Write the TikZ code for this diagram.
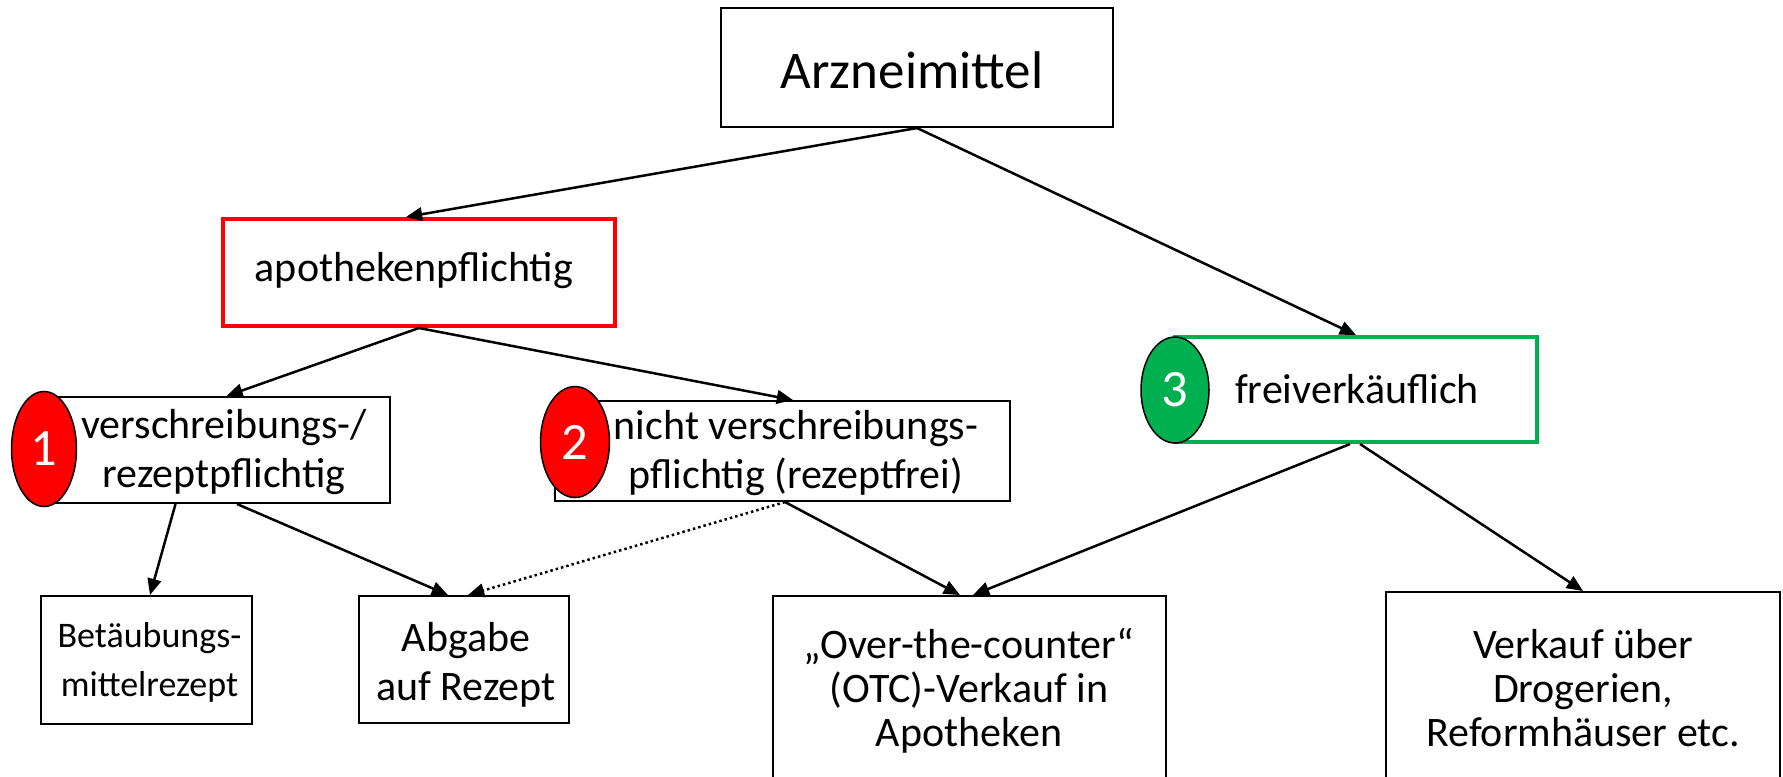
\documentclass[tikz,border=0pt]{standalone}
\usepackage{fontspec}
\setmainfont{Carlito}
\usetikzlibrary{arrows.meta,shapes.geometric}
\definecolor{pptred}{HTML}{FF0000}
\definecolor{pptgreen}{HTML}{00B050}
\tikzset{
  sz/.style 2 args={minimum width=#1*0.4pt, minimum height=#2*0.4pt},
  box/.style={draw=black, line width=0.8pt, fill=white, inner sep=0pt, align=center},
  redbox/.style={box, draw=pptred, line width=1.6pt},
  greenbox/.style={box, draw=pptgreen, line width=1.6pt},
  txt/.style={inner sep=0pt, align=center, font=\fontsize{16.8}{19.6}\selectfont},
  txtb/.style={inner sep=0pt, align=center, font=\fontsize{16.8}{17.6}\selectfont},
  txts/.style={inner sep=0pt, align=center, font=\fontsize{14.4}{19.6}\selectfont},
  badge/.style={ellipse, draw=black, line width=0.6pt, inner sep=0pt, text=white,
    font=\fontsize{21}{24}\selectfont},
  arr/.style={line width=1pt, -{Triangle[length=6.5pt,width=5.5pt]}},
  dotarr/.style={line width=1pt, dash pattern=on 1pt off 1.2pt, -{Triangle[length=6.5pt,width=5.5pt]}},
}
\begin{document}
\begin{tikzpicture}[x=0.4pt, y=-0.4pt]
\useasboundingbox (0,0) rectangle (1783,776);
\clip (0,0) rectangle (1783,776);
\fill[white] (0,0) rectangle (1783,776);

% boxes
\node[box, sz={392}{119}] (arz) at (917,67.5) {};
\node[txt, font=\fontsize{21.2}{24}\selectfont] (arzt) at (912,70) {Arzneimittel};

\node[redbox, sz={392}{107}] (apoth) at (419,272.5) {};
\node[txt] (apotht) at (414,271) {apothekenpflichtig};

\node[box, sz={349}{106}] (vers) at (215.5,450) {};
\node[txt] (verst) at (224,452) {verschreibungs-/\\rezeptpflichtig};

\node[box, sz={455}{100}] (nicht) at (782.5,451) {};
\node[txt] (nichtt) at (796,453) {nicht verschreibungs-\\pflichtig (rezeptfrei)};

\node[greenbox, sz={362}{105}] (frei) at (1356,389.5) {};
\node[txt] (freit) at (1357,389) {freiverkäuflich};

\node[box, sz={211}{128}] (betaeub) at (146.5,660) {};
\node[txts] (betaeubt) at (149.5,662) {Betäubungs-\\mittelrezept};

\node[box, sz={210}{127}] (abgabe) at (464,659.5) {};
\node[txt] (abgabet) at (466,665) {Abgabe\\auf Rezept};

\node[box, sz={393}{210}] (otc) at (969.5,701) {};
\node[txtb] (otct) at (969,691) {„Over-the-counter“\\(OTC)-Verkauf in\\Apotheken};

\node[box, sz={394}{214}] (verkauf) at (1583,699) {};
\node[txtb] (verkauft) at (1583,688) {Verkauf über\\Drogerien,\\Reformhäuser etc.};

% badges
\node[badge, fill=pptred, sz={65}{115}] (b1) at (44,449) {1};
\node[badge, fill=pptred, sz={69}{111}] (b2) at (575,442) {2};
\node[badge, fill=pptgreen, sz={68}{106}] (b3) at (1175,390) {3};

% connectors
\draw[arr] (arz.south) -- ([xshift=-5.2pt]apoth.north);
\draw[arr] (arz.south) -- (frei.north);
\draw[arr] (apoth.south) -- ([xshift=4.4pt]vers.north);
\draw[arr] (apoth.south) -- ([xshift=4.2pt]nicht.north);
\draw[arr] ([xshift=-16pt]vers.south) -- ([xshift=1.4pt]betaeub.north);
\draw[arr] ([xshift=8.6pt]vers.south) -- ([xshift=-6.4pt]abgabe.north);
\draw[dotarr] ([xshift=1pt]nicht.south) -- ([xshift=1.6pt]abgabe.north);
\draw[arr] ([xshift=1pt]nicht.south) -- ([xshift=-3.8pt]otc.north);
\draw[arr] ([xshift=-2.4pt]frei.south) -- ([xshift=1.4pt]otc.north);
\draw[arr] ([xshift=1.6pt]frei.south) -- (verkauf.north);
\end{tikzpicture}
\end{document}
